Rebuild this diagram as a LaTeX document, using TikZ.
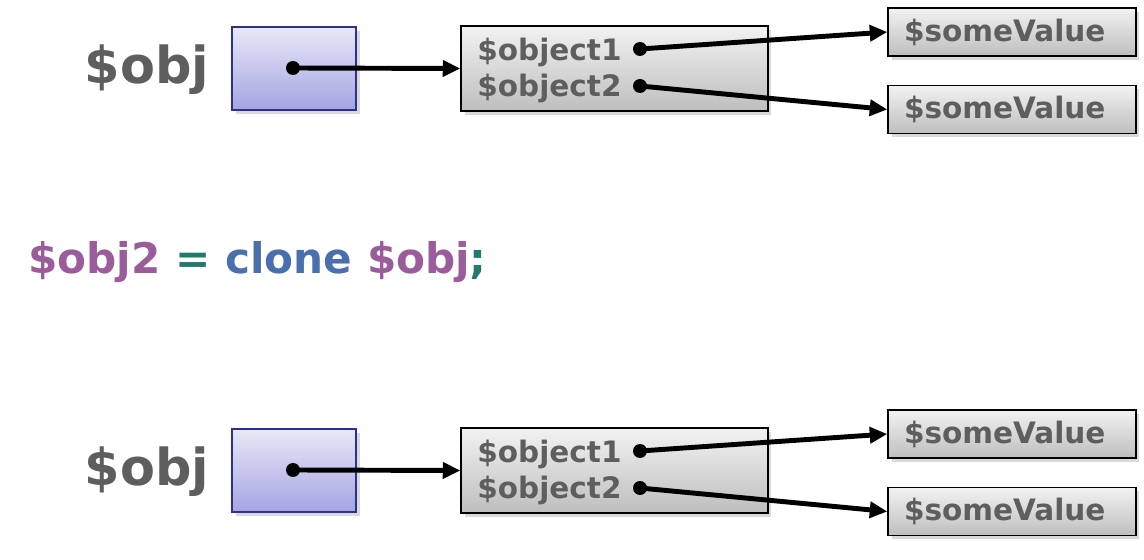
\documentclass[tikz,border=0pt]{standalone}
\usepackage{fontspec}
\setmainfont{DejaVu Sans}
\usepackage{xcolor}
\usetikzlibrary{arrows.meta, shadows}

\definecolor{labelgray}{HTML}{5E5E5E}
\definecolor{phpvar}{HTML}{9A5C9A}
\definecolor{phpop}{HTML}{217A6C}
\definecolor{phpkw}{HTML}{4A6FAE}
\definecolor{refborder}{HTML}{2E3090}
\definecolor{reftop}{HTML}{E8E8F8}
\definecolor{refbottom}{HTML}{A4A4E2}
\definecolor{boxtop}{HTML}{F2F2F2}
\definecolor{boxbottom}{HTML}{BEBEBE}

\begin{document}
\begin{tikzpicture}[
    x=0.02cm, y=-0.02cm,
    bigname/.style={font=\bfseries\fontsize{29}{32}\selectfont, text=labelgray},
    fieldname/.style={font=\bfseries\fontsize{16.8}{18}\selectfont, text=labelgray, inner sep=0pt},
    refbox/.style={rectangle, draw=refborder, line width=0.8pt, top color=reftop, bottom color=refbottom,
        minimum width=2.48cm, minimum height=1.66cm, drop shadow={opacity=0.3, shadow xshift=2pt, shadow yshift=-2pt}},
    objbox/.style={rectangle, draw=black, line width=0.8pt, top color=boxtop, bottom color=boxbottom,
        minimum width=6.14cm, minimum height=1.7cm, drop shadow={opacity=0.3, shadow xshift=2pt, shadow yshift=-2pt}},
    valbox/.style={rectangle, draw=black, line width=0.8pt, top color=boxtop, bottom color=boxbottom,
        minimum width=4.96cm, minimum height=0.96cm, inner ysep=0pt, inner xsep=0.32cm,
        text width=4.32cm, align=left,
        font=\bfseries\fontsize{16.8}{18}\selectfont, text=labelgray,
        drop shadow={opacity=0.3, shadow xshift=2pt, shadow yshift=-2pt}},
    dot/.style={circle, fill=black, minimum size=0.28cm, inner sep=0pt},
    ptr/.style={-{Triangle[length=10pt, width=9pt]}, line width=2.8pt}
]
\useasboundingbox (0,0) rectangle (1144,560);

% the two rows: before and after the clone
\foreach \r/\dy in {a/0, b/402} {
    \node[bigname] (name\r) at (147,70+\dy) {\$obj};
    \node[refbox] (ref\r) at (294,68.5+\dy) {};
    \node[dot] (refdot\r) at (293,68+\dy) {};
    \node[objbox] (obj\r) at (614.5,68.5+\dy) {};
    \node[fieldname, anchor=base west] (fielda\r) at (477,61+\dy) {\$object1};
    \node[fieldname, anchor=base west] (fieldb\r) at (477,97+\dy) {\$object2};
    \node[dot] (dota\r) at (640,49+\dy) {};
    \node[dot] (dotb\r) at (640,86+\dy) {};
    \node[valbox] (vala\r) at (1012,32+\dy) {\$someValue};
    \node[valbox] (valb\r) at (1012,109.5+\dy) {\$someValue};

    \draw[ptr] (refdot\r.center) -- (obj\r.west);
    \draw[ptr] (dota\r.center) -- (vala\r.west);
    \draw[ptr] (dotb\r.center) -- (valb\r.west);
}

\node[anchor=west, inner sep=0pt, font=\bfseries\fontsize{24}{28}\selectfont] (clone) at (28,262)
    {\textcolor{phpvar}{\$obj2} \textcolor{phpop}{=} \textcolor{phpkw}{clone} \textcolor{phpvar}{\$obj}\textcolor{phpop}{;}};
\end{tikzpicture}
\end{document}
